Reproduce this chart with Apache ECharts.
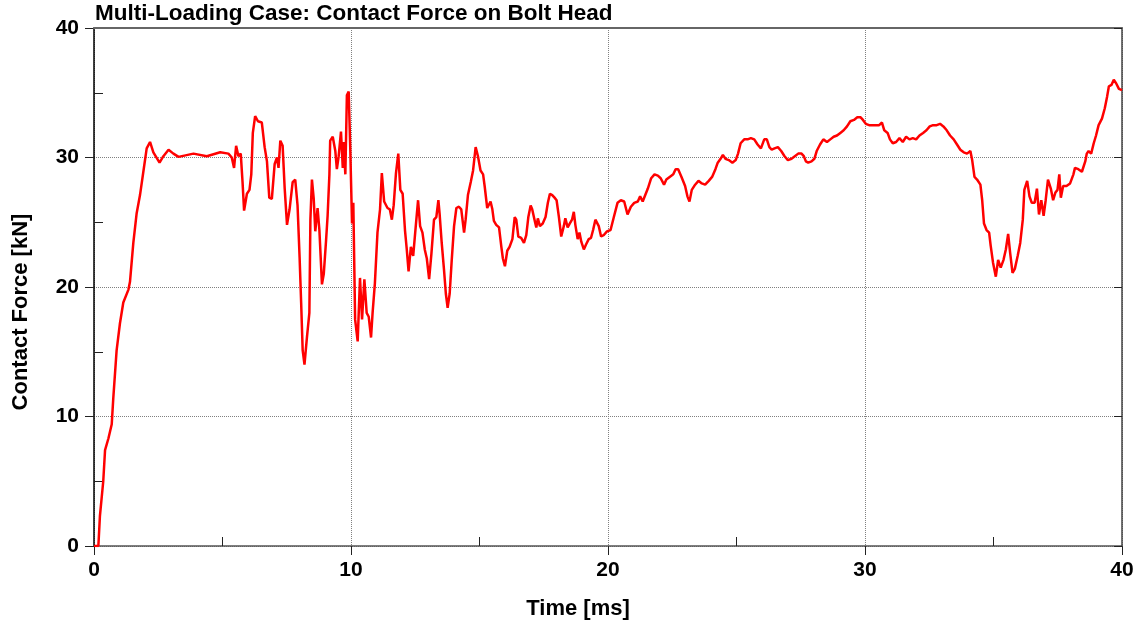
<!DOCTYPE html>
<html>
<head>
<meta charset="utf-8">
<script src="https://cdn.jsdelivr.net/npm/echarts@6/dist/echarts.min.js"></script>
<style>
html,body{margin:0;padding:0;background:#fff;}
#chart{width:1138px;height:626px;}
</style>
</head>
<body>
<div id="chart"></div>
<script>
const chartTitle = 'Multi-Loading Case: Contact Force on Bolt Head';
const xAxisName = 'Time [ms]';
const yAxisName = 'Contact Force [kN]';
const xTicks = [0, 10, 20, 30, 40];
const yTicks = [0, 10, 20, 30, 40];

const time = [
  0, 0.17, 0.23, 0.36, 0.43, 0.56, 0.69, 0.75, 0.88, 1.01, 1.14, 1.34, 1.40, 1.53, 1.66, 1.79, 1.92, 2.05, 2.18, 2.31,
  2.55, 2.70, 2.90, 3.09, 3.29, 3.87, 4.39, 4.91, 5.23, 5.36, 5.45, 5.53, 5.62, 5.71, 5.78, 5.84, 5.95, 6.05, 6.12, 6.18,
  6.27, 6.38, 6.53, 6.64, 6.73, 6.82, 6.92, 7.03, 7.12, 7.18, 7.25, 7.34, 7.42, 7.51, 7.61, 7.73, 7.83, 7.92, 8.00, 8.06,
  8.12, 8.19, 8.29, 8.38, 8.42, 8.48, 8.55, 8.61, 8.70, 8.77, 8.87, 8.94, 9.03, 9.09, 9.16, 9.19, 9.29, 9.39, 9.45, 9.52,
  9.61, 9.68, 9.71, 9.78, 9.84, 9.91, 9.97, 10.04, 10.09, 10.16, 10.26, 10.35, 10.43, 10.52, 10.61, 10.69, 10.78, 10.84, 10.93, 11.03,
  11.13, 11.20, 11.29, 11.42, 11.51, 11.59, 11.66, 11.75, 11.84, 11.92, 12.01, 12.10, 12.17, 12.24, 12.33, 12.42, 12.52, 12.61, 12.69, 12.78,
  12.87, 12.95, 13.04, 13.13, 13.23, 13.32, 13.40, 13.45, 13.53, 13.62, 13.69, 13.76, 13.84, 13.92, 14.01, 14.10, 14.20, 14.29, 14.40, 14.46,
  14.55, 14.66, 14.75, 14.85, 14.94, 15.04, 15.14, 15.20, 15.30, 15.43, 15.50, 15.56, 15.65, 15.76, 15.85, 15.91, 15.99, 16.08, 16.17, 16.28,
  16.37, 16.43, 16.51, 16.62, 16.73, 16.82, 16.90, 16.99, 17.05, 17.14, 17.21, 17.27, 17.35, 17.46, 17.57, 17.66, 17.74, 17.83, 17.92, 18.00,
  18.09, 18.18, 18.28, 18.34, 18.43, 18.51, 18.60, 18.67, 18.73, 18.82, 18.89, 18.96, 19.06, 19.15, 19.25, 19.34, 19.42, 19.51, 19.57, 19.64,
  19.73, 19.83, 19.96, 20.10, 20.24, 20.37, 20.50, 20.63, 20.76, 20.89, 21.02, 21.16, 21.25, 21.35, 21.45, 21.55, 21.68, 21.81, 21.94, 22.05,
  22.18, 22.27, 22.40, 22.54, 22.63, 22.73, 22.86, 23.00, 23.09, 23.17, 23.26, 23.39, 23.52, 23.65, 23.78, 23.92, 24.05, 24.18, 24.27, 24.38,
  24.47, 24.57, 24.70, 24.84, 24.97, 25.06, 25.16, 25.30, 25.43, 25.56, 25.69, 25.82, 25.95, 26.08, 26.18, 26.28, 26.37, 26.48, 26.61, 26.74,
  26.87, 27.00, 27.14, 27.27, 27.40, 27.53, 27.62, 27.70, 27.79, 27.92, 28.03, 28.12, 28.25, 28.38, 28.52, 28.65, 28.78, 28.91, 29.04, 29.17,
  29.30, 29.43, 29.57, 29.70, 29.83, 29.92, 30.03, 30.16, 30.29, 30.42, 30.55, 30.66, 30.75, 30.88, 30.97, 31.08, 31.21, 31.34, 31.47, 31.60,
  31.73, 31.86, 31.99, 32.12, 32.26, 32.39, 32.52, 32.65, 32.79, 32.92, 33.05, 33.18, 33.31, 33.45, 33.58, 33.71, 33.84, 33.97, 34.10, 34.17,
  34.26, 34.36, 34.49, 34.56, 34.63, 34.73, 34.83, 34.89, 34.98, 35.09, 35.18, 35.28, 35.39, 35.48, 35.57, 35.65, 35.74, 35.83, 35.94, 36.04,
  36.14, 36.20, 36.31, 36.40, 36.49, 36.60, 36.69, 36.77, 36.86, 36.95, 37.03, 37.12, 37.23, 37.32, 37.41, 37.49, 37.56, 37.62, 37.71, 37.84,
  37.98, 38.11, 38.17, 38.30, 38.44, 38.57, 38.63, 38.70, 38.80, 38.90, 38.99, 39.09, 39.22, 39.33, 39.42, 39.49, 39.59, 39.68, 39.78, 39.88,
  40.0
];

const force = [
  0, 0, 2.3, 5.0, 7.4, 8.3, 9.4, 11.4, 15.1, 17.2, 18.8, 19.8, 20.4, 23.4, 25.7, 27.1, 28.9, 30.7, 31.2, 30.4,
  29.6, 30.1, 30.6, 30.3, 30.05, 30.3, 30.1, 30.4, 30.3, 30.0, 29.2, 30.9, 30.1, 30.3, 28.1, 25.9, 27.2, 27.5, 28.7, 31.9,
  33.2, 32.8, 32.7, 30.8, 29.7, 26.9, 26.8, 29.5, 30.0, 29.2, 31.3, 30.9, 27.6, 24.8, 26.0, 28.1, 28.3, 26.3, 22.3, 18.8,
  15.1, 14.0, 16.2, 18.0, 25.2, 28.3, 26.8, 24.3, 26.1, 24.4, 20.2, 21.0, 23.6, 25.5, 28.7, 31.3, 31.6, 30.5, 29.1, 30.1,
  32.0, 29.2, 31.2, 28.7, 34.8, 35.1, 30.8, 24.9, 26.5, 17.5, 15.8, 20.7, 17.5, 20.6, 18.0, 17.7, 16.1, 18.0, 20.3, 24.2,
  26.0, 28.8, 26.6, 26.1, 26.0, 25.2, 26.3, 28.8, 30.3, 27.5, 27.2, 24.4, 22.9, 21.2, 23.1, 22.4, 24.7, 26.7, 24.7, 24.2,
  22.9, 22.2, 20.6, 22.6, 25.2, 25.4, 26.7, 25.6, 23.4, 21.3, 19.5, 18.4, 19.5, 22.1, 24.7, 26.1, 26.2, 26.0, 24.2, 25.2,
  27.1, 28.1, 29.0, 30.8, 30.1, 29.0, 28.7, 27.8, 26.1, 26.6, 26.0, 25.1, 24.8, 24.6, 23.1, 22.2, 21.6, 22.8, 23.1, 23.7,
  25.4, 25.2, 23.9, 23.8, 23.4, 24.0, 25.4, 26.3, 26.0, 25.2, 24.6, 25.3, 24.7, 24.9, 25.4, 26.5, 27.2, 27.1, 26.9, 26.7,
  25.4, 23.9, 24.7, 25.3, 24.6, 24.9, 25.2, 25.8, 24.8, 23.7, 24.2, 23.5, 22.9, 23.3, 23.7, 23.8, 24.4, 25.2, 25.3, 24.7,
  23.9, 24.0, 24.3, 24.4, 25.5, 26.5, 26.7, 26.6, 25.6, 26.2, 26.5, 26.6, 27.0, 26.6, 27.1, 27.6, 28.4, 28.7, 28.6, 28.4,
  27.9, 28.3, 28.5, 28.7, 29.1, 29.1, 28.5, 27.8, 27.0, 26.6, 27.5, 27.9, 28.2, 28.0, 27.9, 28.2, 28.5, 29.1, 29.6, 29.9,
  30.2, 29.9, 29.8, 29.6, 29.8, 30.3, 31.1, 31.4, 31.4, 31.5, 31.4, 31.0, 30.7, 31.4, 31.4, 30.8, 30.6, 30.7, 30.8, 30.5,
  30.1, 29.8, 29.9, 30.1, 30.3, 30.3, 30.1, 29.7, 29.6, 29.7, 29.9, 30.5, 31.0, 31.4, 31.2, 31.4, 31.6, 31.7, 31.9, 32.1,
  32.4, 32.8, 32.9, 33.1, 33.1, 32.9, 32.6, 32.5, 32.5, 32.5, 32.5, 32.7, 32.1, 31.9, 31.4, 31.1, 31.2, 31.5, 31.2, 31.6,
  31.4, 31.5, 31.4, 31.7, 31.9, 32.1, 32.4, 32.5, 32.5, 32.6, 32.4, 32.1, 31.7, 31.4, 31.0, 30.6, 30.4, 30.3, 30.5, 29.8,
  28.5, 28.3, 27.9, 26.7, 24.9, 24.4, 24.2, 23.2, 21.9, 20.8, 22.1, 21.5, 22.1, 22.9, 24.1, 22.6, 21.1, 21.4, 22.4, 23.4,
  25.2, 27.5, 28.2, 27.0, 26.5, 26.5, 27.6, 25.6, 26.7, 25.5, 26.7, 28.3, 27.6, 26.7, 27.3, 27.5, 28.7, 26.9, 27.8, 27.8,
  28.0, 28.7, 29.2, 29.1, 28.9, 29.7, 30.3, 30.5, 30.3, 31.1, 31.7, 32.5, 33.0, 33.8, 34.7, 35.5, 35.6, 36.0, 35.7, 35.3,
  35.2
];

const FONT = '"Liberation Sans", Arial, sans-serif';
const seriesData = time.map((t, i) => [t, force[i]]);

const chart = echarts.init(document.getElementById('chart'), null, {renderer: 'canvas'});

const xMin = xTicks[0], xMax = xTicks[xTicks.length - 1], xStep = xTicks[1] - xTicks[0];
const yMin = yTicks[0], yMax = yTicks[yTicks.length - 1], yStep = yTicks[1] - yTicks[0];

chart.setOption({
  animation: false,
  backgroundColor: '#ffffff',
  title: {
    text: chartTitle,
    left: 90,
    top: -3,
    textStyle: {fontFamily: FONT, fontSize: 22.5, fontWeight: 'bold', color: '#000'}
  },
  grid: {left: 94, right: 16, top: 28, bottom: 80, containLabel: false},
  xAxis: [
    {
      type: 'value', position: 'bottom', min: xMin, max: xMax, interval: xStep,
      name: xAxisName, nameLocation: 'middle', nameGap: 52,
      nameTextStyle: {fontFamily: FONT, fontSize: 22, fontWeight: 'bold', color: '#000', padding: [0, 60, 0, 0]},
      axisLine: {show: true, onZero: false, lineStyle: {color: '#555', width: 1.5}},
      axisTick: {show: true, inside: false, length: 9, lineStyle: {color: '#222', width: 1}},
      axisLabel: {margin: 14, fontFamily: FONT, fontSize: 21, fontWeight: 'bold', color: '#000'},
      splitLine: {show: true, lineStyle: {color: '#808080', type: 'dotted', width: 1}}
    },
    {
      type: 'value', position: 'bottom', min: xMin, max: xMax, interval: xStep,
      axisLine: {show: false, onZero: false},
      axisTick: {show: false, inside: true},
      minorTick: {show: true, splitNumber: 2, length: 9, lineStyle: {color: '#222', width: 1}},
      axisLabel: {show: false},
      splitLine: {show: false}
    },
    {
      type: 'value', position: 'top', min: xMin, max: xMax, interval: xStep, z: 4,
      axisLine: {show: true, onZero: false, lineStyle: {color: '#666', width: 2}},
      axisTick: {show: false},
      axisLabel: {show: false},
      splitLine: {show: false}
    }
  ],
  yAxis: [
    {
      type: 'value', position: 'left', min: yMin, max: yMax, interval: yStep,
      name: yAxisName, nameLocation: 'middle', nameGap: 62, nameRotate: 90,
      nameTextStyle: {fontFamily: FONT, fontSize: 22, fontWeight: 'bold', color: '#000', padding: [0, 50, 0, 0]},
      axisLine: {show: true, onZero: false, lineStyle: {color: '#000', width: 1.5}},
      axisTick: {show: true, inside: false, length: 9, lineStyle: {color: '#222', width: 1}},
      axisLabel: {margin: 15, fontFamily: FONT, fontSize: 21, fontWeight: 'bold', color: '#000'},
      splitLine: {show: true, lineStyle: {color: '#808080', type: 'dotted', width: 1}}
    },
    {
      type: 'value', position: 'left', min: yMin, max: yMax, interval: yStep,
      axisLine: {show: false, onZero: false},
      axisTick: {show: false, inside: true},
      minorTick: {show: true, splitNumber: 2, length: 9, lineStyle: {color: '#222', width: 1}},
      axisLabel: {show: false},
      splitLine: {show: false}
    },
    {
      type: 'value', position: 'right', min: yMin, max: yMax, interval: yStep, z: 4,
      axisLine: {show: true, onZero: false, lineStyle: {color: '#444', width: 1.5}},
      axisTick: {show: true, inside: true, length: 8, lineStyle: {color: '#222', width: 1}},
      axisLabel: {show: false},
      splitLine: {show: false}
    }
  ],
  series: [
    {
      type: 'line',
      xAxisIndex: 0,
      yAxisIndex: 0,
      data: seriesData,
      showSymbol: false,
      symbol: 'none',
      smooth: false,
      lineStyle: {color: '#ff0000', width: 2.5},
      z: 5
    }
  ]
});
</script>
</body>
</html>
